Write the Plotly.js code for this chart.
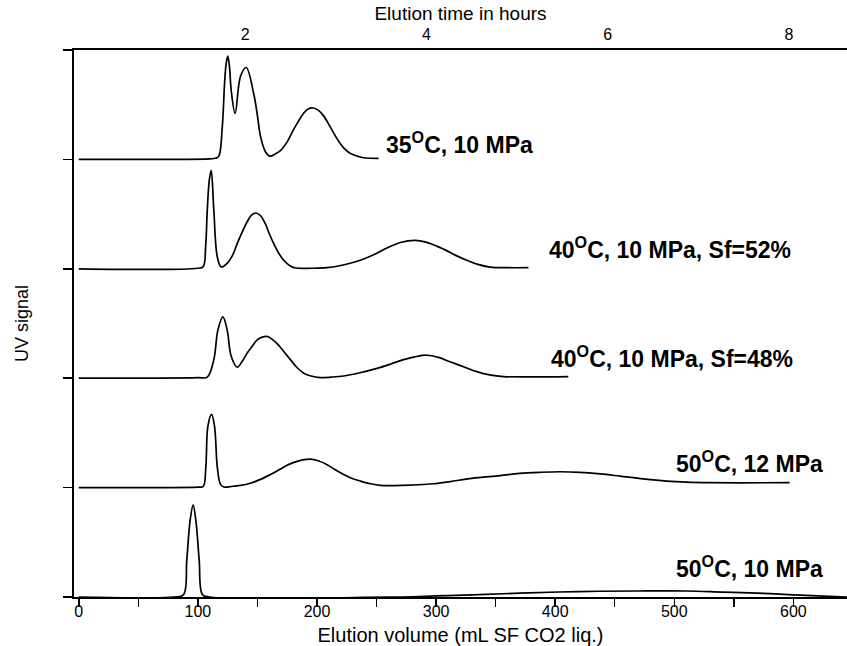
<!DOCTYPE html>
<html>
<head>
<meta charset="utf-8">
<script src="https://cdn.plot.ly/plotly-3.0.1.min.js"></script>
<style>
  html, body { margin: 0; padding: 0; background: #ffffff; }
  #chart { width: 847px; height: 646px; }
</style>
</head>
<body>
<div id="chart"></div>
<script>
// ---- Data ----
// Elution volume (mL SF CO2 liq.) and UV signal (in units of trace spacing)
const labels = [
  "35<sup>O</sup>C, 10 MPa",
  "40<sup>O</sup>C, 10 MPa, Sf=52%",
  "40<sup>O</sup>C, 10 MPa, Sf=48%",
  "50<sup>O</sup>C, 12 MPa",
  "50<sup>O</sup>C, 10 MPa"
];
const baselines = [4, 3, 2, 1, 0];

const volume35 = [0, 110, 114.8, 117.6, 120.5, 122.4, 123.8, 125.1, 126.5, 128, 131.3, 135.8, 140.6, 146.9, 150, 152.6, 156.7, 160.4, 165, 169.3, 175, 180.2, 184.5, 188.6, 192.5, 196.7, 201, 205.4, 211, 216.8, 222, 228, 234, 239.1, 251.7];
const signal35 = [0, 0.005, 0.01, 0.03, 0.30, 0.69, 0.88, 0.944, 0.85, 0.63, 0.42, 0.76, 0.84, 0.60, 0.40, 0.21, 0.07, 0.03, 0.05, 0.08, 0.16, 0.27, 0.35, 0.42, 0.46, 0.47, 0.45, 0.40, 0.30, 0.19, 0.11, 0.055, 0.03, 0.015, 0.01];

const volume40a = [0, 100, 104.5, 106.5, 107.9, 109.6, 111.2, 113.4, 116.3, 119.6, 124.6, 129, 133, 137, 141.4, 145, 149, 153, 156.7, 160, 163.7, 168, 172.1, 177, 181.9, 195, 208.5, 222, 236.4, 248, 258.8, 270, 282.5, 294, 306.2, 316, 325.8, 335, 345.3, 360, 377.5];
const signal40a = [0, 0.005, 0.02, 0.2, 0.535, 0.81, 0.90, 0.535, 0.11, 0.016, 0.05, 0.12, 0.23, 0.33, 0.43, 0.49, 0.51, 0.48, 0.41, 0.32, 0.23, 0.14, 0.078, 0.03, 0.007, 0.005, 0.01, 0.035, 0.078, 0.13, 0.19, 0.24, 0.26, 0.235, 0.18, 0.125, 0.078, 0.04, 0.016, 0.01, 0.01];

const volume40b = [0, 100, 107.9, 113.4, 116.8, 121, 124.6, 128, 133, 137, 141.4, 145.5, 149.8, 154, 158.7, 163, 167.9, 172.8, 177.7, 183, 188.9, 195, 202.8, 212, 222.4, 236, 250.4, 262, 272.7, 282, 292.3, 302, 311.8, 323, 334.2, 345, 356.5, 380, 411];
const signal40b = [0, 0.005, 0.01, 0.17, 0.44, 0.56, 0.44, 0.20, 0.10, 0.15, 0.23, 0.29, 0.35, 0.375, 0.38, 0.35, 0.30, 0.235, 0.17, 0.10, 0.046, 0.02, 0.006, 0.01, 0.02, 0.05, 0.09, 0.13, 0.17, 0.195, 0.21, 0.19, 0.15, 0.105, 0.06, 0.03, 0.015, 0.012, 0.015];

const volume50a = [0, 100, 104.5, 106.7, 108.4, 111.5, 114, 116.3, 119, 121.8, 128, 135.8, 144, 152.6, 161, 169.3, 176, 183.3, 189, 194.5, 201, 208.5, 215, 222.4, 229, 236.4, 245, 253.1, 265, 278.3, 297.8, 311.8, 330, 353.7, 370, 387.3, 404, 420.8, 438, 454.3, 474, 493.5, 510, 529.8, 596.8];
const signal50a = [0, 0.005, 0.01, 0.19, 0.56, 0.67, 0.56, 0.19, 0.03, 0.006, 0.01, 0.02, 0.04, 0.075, 0.12, 0.17, 0.21, 0.24, 0.255, 0.26, 0.245, 0.21, 0.165, 0.12, 0.085, 0.06, 0.035, 0.02, 0.018, 0.022, 0.035, 0.055, 0.085, 0.11, 0.13, 0.14, 0.145, 0.14, 0.125, 0.105, 0.08, 0.06, 0.05, 0.045, 0.045];

const volume50b = [0, 80, 87.9, 90.7, 93.5, 96, 98.3, 101.1, 103.9, 110, 270, 300, 330, 370, 420, 470, 510, 540, 570, 600, 620, 645];
const signal50b = [0, 0, 0.02, 0.34, 0.70, 0.84, 0.70, 0.34, 0.02, 0, 0, 0.01, 0.02, 0.035, 0.05, 0.055, 0.055, 0.045, 0.035, 0.02, 0.01, 0];

const volumes = [volume35, volume40a, volume40b, volume50a, volume50b];
const signals = [signal35, signal40a, signal40b, signal50a, signal50b];

// Label anchor positions (volume, stacked signal)
const labelVolume = [256, 393, 394.5, 499.5, 500];
const labelSignal = [4.15, 3.19, 2.19, 1.23, 0.27];

const volumeTicks = [0, 100, 200, 300, 400, 500, 600];
const hourTicks = [2, 4, 6, 8];

// ---- Build traces ----
const traces = volumes.map((xs, i) => ({
  type: 'scatter',
  mode: 'lines',
  x: xs,
  y: signals[i].map(v => v + baselines[i]),
  line: { color: '#000000', width: 1.7, shape: 'spline', smoothing: 1 },
  hoverinfo: 'skip',
  showlegend: false,
  xaxis: 'x',
  yaxis: 'y'
}));
// invisible trace to activate the top (hours) axis
traces.push({
  type: 'scatter', mode: 'lines', x: hourTicks, y: [null, null, null, null],
  xaxis: 'x2', yaxis: 'y', showlegend: false, hoverinfo: 'skip'
});

const font = 'Liberation Sans, Arial, Helvetica, sans-serif';

const annotations = labels.map((t, i) => ({
  x: labelVolume[i], y: labelSignal[i], xref: 'x', yref: 'y',
  text: '<b>' + t + '</b>', showarrow: false,
  xanchor: 'left', yanchor: 'middle',
  font: { family: font, size: 23, color: '#000000' }
}));

const layout = {
  width: 847, height: 646,
  margin: { l: 74, r: 0, t: 50, b: 49, pad: 0 },
  paper_bgcolor: '#ffffff', plot_bgcolor: '#ffffff',
  font: { family: font, color: '#000000' },
  showlegend: false,
  xaxis: {
    range: [-4, 645],
    showline: true, linecolor: '#000000', linewidth: 2,
    showgrid: false, zeroline: false,
    ticks: 'outside', ticklen: 8, tickwidth: 1.5, tickcolor: '#000000',
    tickvals: volumeTicks,
    ticklabelstandoff: -9,
    tickfont: { family: font, size: 16, color: '#000000' },
    minor: { dtick: 50, tick0: 0, ticks: 'outside', ticklen: 8, tickwidth: 1.5, tickcolor: '#000000', showgrid: false },
    title: { text: 'Elution volume (mL SF CO2 liq.)', font: { family: font, size: 20, color: '#000000' }, standoff: 12 },
    automargin: false
  },
  xaxis2: {
    overlaying: 'x', side: 'top', anchor: 'y',
    range: [0.11, 8.64],
    showline: true, linecolor: '#000000', linewidth: 2,
    showgrid: false, zeroline: false,
    ticks: '', tickvals: hourTicks,
    ticklabelstandoff: 2,
    tickfont: { family: font, size: 16, color: '#000000' },
    title: { text: 'Elution time in hours', font: { family: font, size: 19, color: '#000000' }, standoff: 0 },
    automargin: false
  },
  yaxis: {
    range: [0, 5],
    showline: true, linecolor: '#000000', linewidth: 1.7,
    showgrid: false, zeroline: false,
    ticks: 'outside', ticklen: 9, tickwidth: 1.5, tickcolor: '#000000',
    tickvals: baselines.concat([5]),
    showticklabels: false,
    title: { text: 'UV signal', font: { family: font, size: 18, color: '#000000' }, standoff: 30 },
    automargin: false
  },
  annotations: annotations
};

Plotly.newPlot('chart', traces, layout, { displayModeBar: false, staticPlot: true });
</script>
</body>
</html>
